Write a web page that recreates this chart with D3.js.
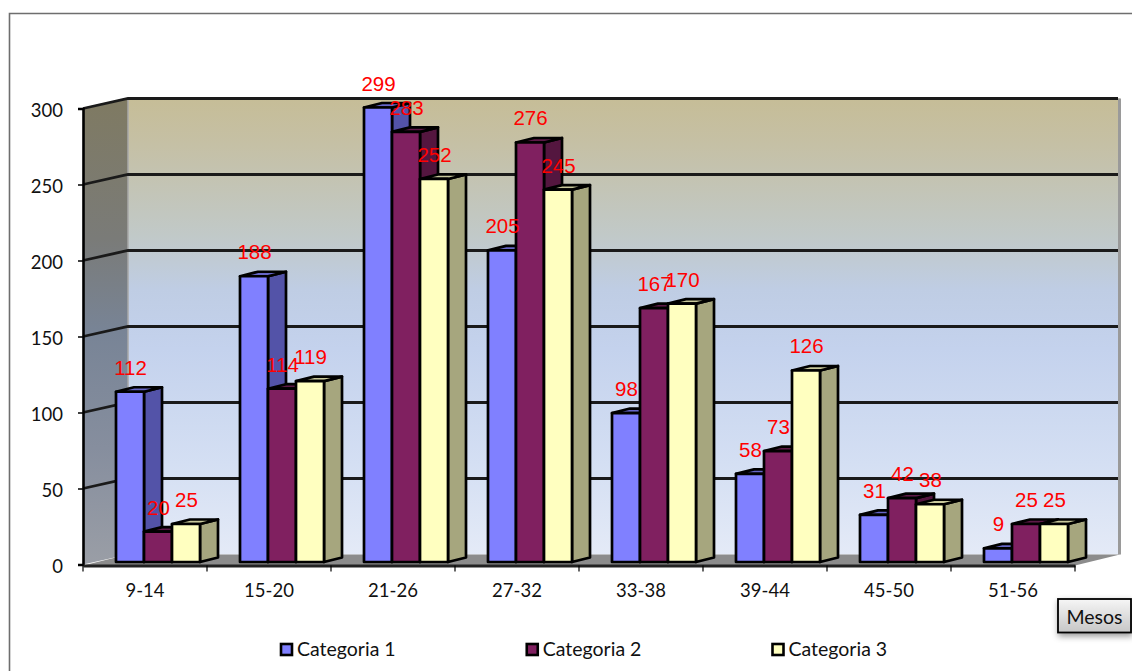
<!DOCTYPE html>
<html><head><meta charset="utf-8">
<script src="https://cdn.jsdelivr.net/npm/d3@7"></script>
<style>html,body{margin:0;padding:0;background:#fff;overflow:hidden}svg{display:block}</style>
</head><body><svg id="c" width="1132" height="671"></svg>
<script>
const categories = ["9-14","15-20","21-26","27-32","33-38","39-44","45-50","51-56"];
const seriesNames = ["Categoria 1","Categoria 2","Categoria 3"];
const categoria1 = [112,188,299,205,98,58,31,9];
const categoria2 = [20,114,283,276,167,73,42,25];
const categoria3 = [25,119,252,245,170,126,38,25];
const yTicks = [0,50,100,150,200,250,300];
const faceFront = ["#8080ff","#802060","#ffffc0"];
const faceSide = ["#5353a8","#54163f","#a6a67e"];
const faceTop = ["#6666c6","#5e1a48","#c9c99c"];

const seriesValues = [categoria1,categoria2,categoria3];
const svg = d3.select("#c");
const defs = svg.append("defs");
const CAL = "Lato, 'Open Sans', sans-serif";

// outer frame
svg.append("path").attr("d","M9.5,671V13.5H1132").attr("fill","none").attr("stroke","#6e6e6e").attr("stroke-width",1.6);

const x0 = 83, x1 = 1075, wallDX = 45, wallDY = -10;
const x = d3.scaleBand().domain(categories).range([x0,x1]);
const y = d3.scaleLinear().domain([0,300]).range([564.5,108.5]);
const inner = d3.scaleBand().domain(d3.range(3)).range([33,117]);
const barDX = 18, barDY = -4.5, barLift = 2.5;

function grad(id,stops){
  const g = defs.append("linearGradient").attr("id",id).attr("x1",0).attr("x2",0).attr("y1",0).attr("y2",1);
  stops.forEach(s=>g.append("stop").attr("offset",s[0]).attr("stop-color",s[1]));
}
grad("back",[[0,"#c6bd97"],[0.1,"#c5c0a5"],[0.3,"#c1c9c8"],[0.42,"#bfcde4"],[0.55,"#c4d2ed"],[0.8,"#d4dff3"],[1,"#e4eaf7"]]);
grad("left",[[0,"#7f7a62"],[0.3,"#7a7b78"],[0.5,"#788496"],[0.75,"#868e9e"],[1,"#9a9ea6"]]);
grad("btn",[[0,"#f6f6f6"],[1,"#c6c6c6"]]);
const sh = defs.append("filter").attr("id","sh").attr("x","-20%").attr("y","-20%").attr("width","150%").attr("height","170%");
sh.append("feDropShadow").attr("dx",1).attr("dy",3).attr("stdDeviation",3).attr("flood-color","#000").attr("flood-opacity",0.4);

const poly = pts => pts.map(p=>p.join(",")).join(" ");
const yT = y(300), yB = y(0);

// back wall, left wall, floor
svg.append("polygon").attr("points",poly([[x0+wallDX,yT+wallDY],[x1+wallDX,yT+wallDY],[x1+wallDX,yB+wallDY],[x0+wallDX,yB+wallDY]])).attr("fill","url(#back)");
svg.append("polygon").attr("points",poly([[x0,yT],[x0+wallDX,yT+wallDY],[x0+wallDX,yB+wallDY],[x0,yB]])).attr("fill","url(#left)");
svg.append("polygon").attr("points",poly([[x0,yB+1],[x0+wallDX,yB+wallDY],[x1+wallDX,yB+wallDY],[x1,yB+1]])).attr("fill","#8c8c8c");
svg.append("line").attr("x1",x0+wallDX).attr("x2",x0+wallDX).attr("y1",yT+wallDY).attr("y2",yB+wallDY).attr("stroke","#a8a8a8").attr("stroke-width",1.5);
svg.append("line").attr("x1",x1+wallDX-.5).attr("x2",x1+wallDX-.5).attr("y1",yT+wallDY).attr("y2",yB+wallDY).attr("stroke","#9a9a9a").attr("stroke-width",3);
svg.append("line").attr("x1",x0).attr("x2",x0+wallDX).attr("y1",yT).attr("y2",yT+wallDY).attr("stroke","#999").attr("stroke-width",1.5);

// gridlines
yTicks.filter(t=>t>0).forEach(t=>{
  svg.append("polyline").attr("points",poly([[x0,y(t)],[x0+wallDX,y(t)+wallDY],[x1+wallDX-2,y(t)+wallDY]]))
    .attr("fill","none").attr("stroke","#1a1a1a").attr("stroke-width",2.8);
});

// bars
const barsG = svg.append("g").attr("stroke","#000").attr("stroke-width",2.7).attr("stroke-linejoin","round");
categories.forEach((c,i)=>{
  seriesValues.forEach((vals,s)=>{
    const v = vals[i], L = x(c)+inner(s), w = inner.bandwidth(), R = L+w, b = y(0)-barLift, t = y(v)-barLift;
    barsG.append("polygon").attr("points",poly([[R,t],[R+barDX,t+barDY],[R+barDX,b+barDY],[R,b]])).attr("fill",faceSide[s]);
    barsG.append("polygon").attr("points",poly([[L,t],[L+barDX,t+barDY],[R+barDX,t+barDY],[R,t]])).attr("fill",faceTop[s]);
    barsG.append("rect").attr("x",L).attr("y",t).attr("width",w).attr("height",b-t).attr("fill",faceFront[s]);
  });
});

// axes
const yAxis = d3.axisLeft(y).tickValues(yTicks).tickSize(5).tickPadding(15);
const gy = svg.append("g").attr("transform",`translate(${x0},0)`).call(yAxis);
gy.select(".domain").attr("stroke","#000").attr("stroke-width",2.6);
gy.selectAll("line").attr("stroke","#000").attr("stroke-width",1.5);
gy.selectAll("text").attr("font-family",CAL).attr("font-size",18.5).attr("fill","#111").attr("dy","0.42em");

const xAxis = d3.axisBottom(x).tickSize(0).tickPadding(18);
const gx = svg.append("g").attr("transform",`translate(0,${y(0)+1})`).call(xAxis);
gx.select(".domain").attr("stroke","#222").attr("stroke-width",2.8);
gx.selectAll("text").attr("font-family",CAL).attr("font-size",18.5).attr("fill","#111");
categories.concat([null]).forEach((c,i)=>{
  const px = c===null ? x1 : x(c);
  gx.append("line").attr("x1",px).attr("x2",px).attr("y1",0).attr("y2",6).attr("stroke","#000").attr("stroke-width",1.2);
});

// value labels
categories.forEach((c,i)=>{
  seriesValues.forEach((vals,s)=>{
    svg.append("text").attr("x",x(c)+inner(s)+inner.bandwidth()/2+0.5).attr("y",y(vals[i])-barLift-24.5)
      .attr("text-anchor","middle").attr("dominant-baseline","central")
      .attr("font-family","'Liberation Sans', Arial, sans-serif").attr("font-size",20.5).attr("fill","#ff0000").text(vals[i]);
  });
});

// legend
const legendX = d3.scalePoint().domain(seriesNames).range([280,771.5]);
seriesNames.forEach((n,s)=>{
  const lx = legendX(n);
  svg.append("rect").attr("x",lx+1).attr("y",644).attr("width",11).attr("height",11).attr("fill",faceFront[s]).attr("stroke","#000").attr("stroke-width",2.6);
  svg.append("text").attr("x",lx+17).attr("y",648.5).attr("dominant-baseline","central").attr("font-family",CAL).attr("font-size",19.5).attr("fill","#111").text(n);
});

// axis-title button
svg.append("rect").attr("x",1058).attr("y",599).attr("width",73).attr("height",33.5).attr("fill","url(#btn)").attr("stroke","#000").attr("stroke-width",1.8).attr("filter","url(#sh)");
svg.append("text").attr("x",1094.5).attr("y",616).attr("text-anchor","middle").attr("dominant-baseline","central").attr("font-family",CAL).attr("font-size",19.5).attr("fill","#111").text("Mesos");
</script></body></html>
